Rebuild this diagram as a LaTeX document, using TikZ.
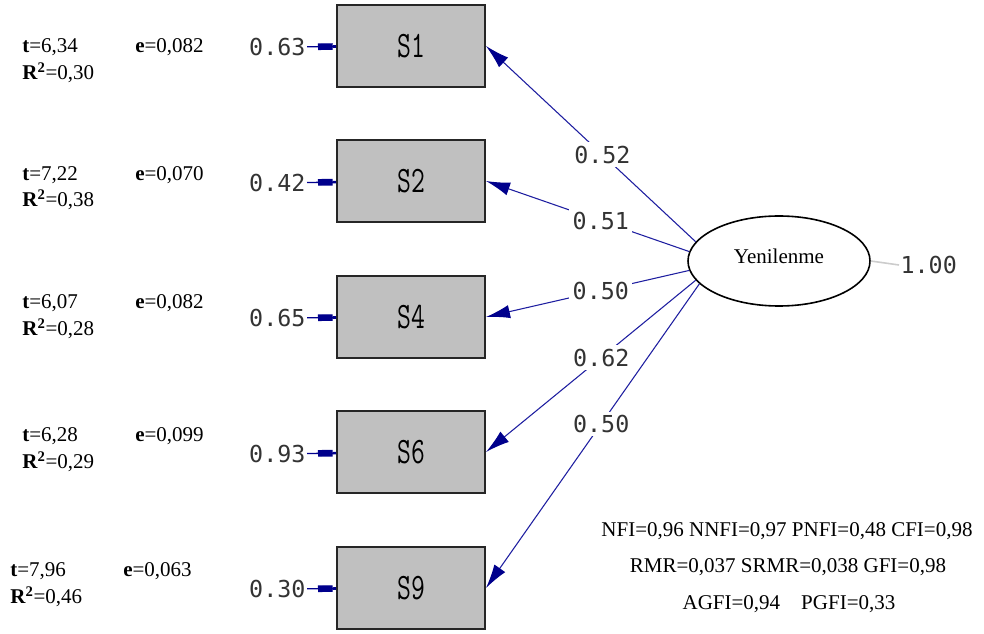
\documentclass[tikz,border=0pt]{standalone}
\usepackage{fontspec}
\usepackage{graphicx}
\setmainfont{Liberation Serif}
\newfontfamily\numfont{DejaVu Sans Mono}
\usetikzlibrary{arrows.meta,shapes.geometric}
\definecolor{navy}{RGB}{0,0,140}
\definecolor{pathblue}{RGB}{30,30,160}
\definecolor{boxgray}{RGB}{192,192,192}
\newcommand{\boxlab}[1]{\scalebox{0.72}[1]{#1}}
\begin{document}
\begin{tikzpicture}[x=0.75pt,y=-0.75pt,
  obs/.style={draw=black!85, line width=1.5pt, fill=boxgray, minimum width=111pt, minimum height=62pt, inner sep=0pt, font=\ttfamily\fontsize{28}{28}\selectfont},
  lat/.style={ellipse, draw=black, line width=1.2pt, fill=white, minimum width=136.5pt, minimum height=67.5pt, inner sep=0pt, font=\fontsize{15.75}{18}\selectfont},
  num/.style={font=\numfont\fontsize{17.5}{20}\selectfont, text=black!80, inner sep=1pt},
  lab/.style={num, fill=white, inner sep=2.5pt},
  stat/.style={anchor=west, inner sep=0pt, font=\fontsize{15.75}{18}\selectfont},
  fit/.style={inner sep=0pt, font=\fontsize{15.75}{18}\selectfont},
  load/.style={draw=pathblue, line width=0.8pt, -{Latex[length=18pt,width=10pt,color=navy]}},
  errarr/.style={draw=navy, line width=1pt, -{Rectangle[length=11pt,width=5pt] Bar[width=0pt,length=2.5pt,sep=0pt]}},
  varline/.style={draw=black!20, line width=1.2pt}
]
\useasboundingbox (0,0) rectangle (984,634);

% observed variables
\node[obs] (S1) at (411,46) {\boxlab{S1}};
\node[obs] (S2) at (411,181) {\boxlab{S2}};
\node[obs] (S4) at (411,317) {\boxlab{S4}};
\node[obs] (S6) at (411,452) {\boxlab{S6}};
\node[obs] (S9) at (411,588) {\boxlab{S9}};

% latent variable
\node[lat] (Y) at (779,261) {\raisebox{7pt}{Yenilenme}};

% loadings
\draw[load] (Y.167.5) -- node[lab,pos=0.445] (l1) {0.52} (S1.east);
\draw[load] (Y.174) -- node[lab,pos=0.435] (l2) {0.51} (S2.east);
\draw[load] (Y.186) -- node[lab,pos=0.435] (l4) {0.50} (S4.east);
\draw[load] (Y.193) -- node[lab,pos=0.45] (l6) {0.62} (S6.east);
\draw[load] (Y.196) -- node[lab,pos=0.46] (l9) {0.50} (S9.east);

% latent variance
\node[num, anchor=west] (one) at (899,265) {1.00};
\draw[varline] (Y.east) -- (one.west);

% error variances
\node[num, anchor=east] (e1) at (307,47) {0.63};
\node[num, anchor=east] (e2) at (307,183) {0.42};
\node[num, anchor=east] (e4) at (307,318) {0.65};
\node[num, anchor=east] (e6) at (307,454) {0.93};
\node[num, anchor=east] (e9) at (307,589) {0.30};
\draw[errarr] (e1) -- (S1);
\draw[errarr] (e2) -- (S2);
\draw[errarr] (e4) -- (S4);
\draw[errarr] (e6) -- (S6);
\draw[errarr] (e9) -- (S9);

% statistics
\node[stat] (t1) at (22,47) {\textbf{t}=6,34};
\node[stat] (ee1) at (135,47) {\textbf{e}=0,082};
\node[stat] (r1) at (22,73) {\textbf{R}\textsuperscript{\textbf{2}}=0,30};

\node[stat] (t2) at (22,175) {\textbf{t}=7,22};
\node[stat] (ee2) at (135,175) {\textbf{e}=0,070};
\node[stat] (r2) at (22,200) {\textbf{R}\textsuperscript{\textbf{2}}=0,38};

\node[stat] (t4) at (22,303) {\textbf{t}=6,07};
\node[stat] (ee4) at (135,303) {\textbf{e}=0,082};
\node[stat] (r4) at (22,329) {\textbf{R}\textsuperscript{\textbf{2}}=0,28};

\node[stat] (t6) at (22,436) {\textbf{t}=6,28};
\node[stat] (ee6) at (135,436) {\textbf{e}=0,099};
\node[stat] (r6) at (22,462) {\textbf{R}\textsuperscript{\textbf{2}}=0,29};

\node[stat] (t9) at (10,571) {\textbf{t}=7,96};
\node[stat] (ee9) at (123,571) {\textbf{e}=0,063};
\node[stat] (r9) at (10,597) {\textbf{R}\textsuperscript{\textbf{2}}=0,46};

% fit indices
\node[fit] (f1) at (787,531) {NFI=0,96 NNFI=0,97 PNFI=0,48 CFI=0,98};
\node[fit] (f2) at (788,567) {RMR=0,037 SRMR=0,038 GFI=0,98};
\node[fit] (f3) at (789,604) {AGFI=0,94\quad PGFI=0,33};
\end{tikzpicture}
\end{document}
